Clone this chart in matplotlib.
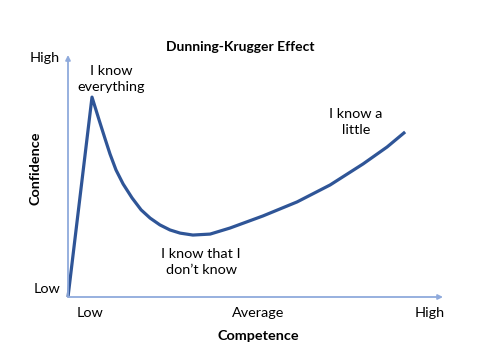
import matplotlib
matplotlib.use('Agg')
import matplotlib.pyplot as plt

# curve (competence 0-100, confidence 0-100)
competence = [0.0, 6.4, 8.3, 9.9, 11.2, 12.8, 14.7, 17.1, 19.5, 21.9, 24.5, 27.2,
              29.9, 33.3, 37.9, 43.2, 52.0, 61.1, 69.9, 78.7, 85.1, 89.9]
confidence = [0.0, 82.6, 73.1, 65.3, 59.1, 52.5, 46.7, 40.9, 36.0, 32.6, 29.8, 27.7,
              26.4, 25.6, 26.0, 28.5, 33.5, 39.3, 46.3, 55.0, 62.0, 68.2]

x_ticks  = [5.8, 50.7, 96.5]
x_labels = ['Low', 'Average', 'High']
y_labels = ['Low', 'High']

notes = [('I know\neverything', 111, 79),
         ('I know that I\ndon\u2019t know', 201, 262),
         ('I know a\nlittle', 356, 122)]

W, H = 481, 359
plt.rcParams['font.family'] = ['Lato', 'DejaVu Sans']

fig = plt.figure(figsize=(W / 100, H / 100), dpi=100)
ax = fig.add_axes([68 / W, 62 / H, 375 / W, 242 / H])
ax.set_xlim(0, 100)
ax.set_ylim(0, 100)
ax.axis('off')

axis_col = '#8FAADC'
ax.annotate('', xy=(1, 0), xytext=(0, 0), xycoords='axes fraction',
            arrowprops=dict(arrowstyle='-|>', color=axis_col, lw=1.3, mutation_scale=7,
                            shrinkA=0, shrinkB=0))
ax.annotate('', xy=(0, 1), xytext=(0, 0), xycoords='axes fraction',
            arrowprops=dict(arrowstyle='-|>', color=axis_col, lw=1.3, mutation_scale=7,
                            shrinkA=0, shrinkB=0))

ax.plot(competence, confidence, color='#2F5597', linewidth=2.3, clip_on=False,
        solid_capstyle='butt', solid_joinstyle='round')

def ftext(px, py, s, **kw):
    fig.text(px / W, 1 - py / H, s, ha='center', va='center', **kw)

ftext(240, 47, 'Dunning-Krugger Effect', fontsize=10, fontweight='bold')
ftext(258, 336, 'Competence', fontsize=10.4, fontweight='bold')
ftext(35, 168, 'Confidence', fontsize=10.4, fontweight='bold', rotation=90)

for xt, lb in zip(x_ticks, x_labels):
    ftext(68 + xt * 3.75, 313, lb, fontsize=10.4)
ftext(47, 289, y_labels[0], fontsize=10.4)
ftext(45, 58, y_labels[1], fontsize=10.4)

for s, px, py in notes:
    ftext(px, py, s, fontsize=10.4, linespacing=1.45)

fig.savefig('out.png', dpi=100)
